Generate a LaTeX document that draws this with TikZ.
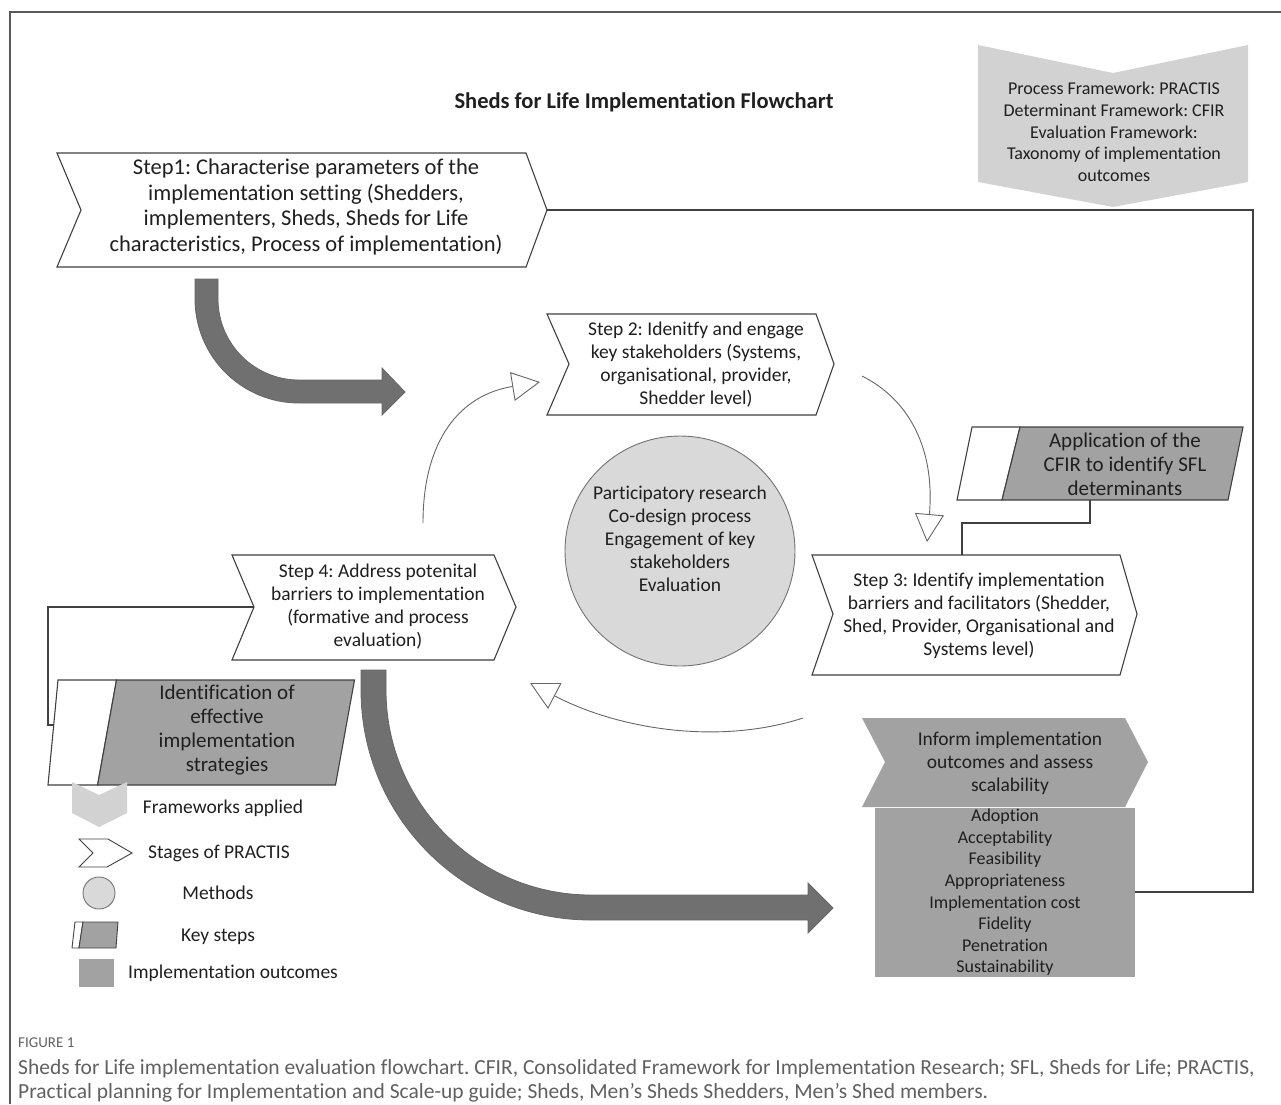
\documentclass[tikz,border=0pt]{standalone}
\usepackage{fontspec}
\setmainfont{Carlito}[Ligatures=NoCommon]
\usepackage{tikz}
\usetikzlibrary{arrows.meta}
\definecolor{fwgray}{HTML}{D2D2D2}
\definecolor{circgray}{HTML}{D9D9D9}
\definecolor{keygray}{HTML}{A2A2A2}
\definecolor{arrgray}{HTML}{707070}
\definecolor{linegray}{HTML}{404040}
\definecolor{capgray}{HTML}{606060}
\newcommand{\fsz}[2]{\fontsize{#1}{#2}\selectfont}
\frenchspacing

\begin{document}
\begin{tikzpicture}[x=1pt, y=-1pt,
  stage/.style={draw=linegray, line width=1.1pt, fill=white},
  keyfill/.style={draw=linegray, line width=1.1pt, fill=keygray},
  conn/.style={draw=linegray, line width=1.3pt},
  loopline/.style={draw=black!60, line width=0.9pt, -{Triangle[open, length=28pt, width=29pt]}},
  bigarrow/.style={fill=arrgray, draw=black!60, line width=0.8pt},
  txt/.style={align=center, inner sep=0pt, text=black!88},
  steptxt/.style={txt, font=\fsz{19.5}{23}},
  legtxt/.style={txt, font=\fsz{19.5}{23}}]
\useasboundingbox (0,0) rectangle (1281,1104);
\draw[draw=black!65, line width=1.2pt] (1281,12) -- (10,12) -- (10,1104);

\node[txt, font=\fsz{22.5}{27}\bfseries] (title) at (644,102) {Sheds for Life Implementation Flowchart};

\coordinate (s1tip) at (547,210);
\coordinate (rbot) at (1253,892);
\coordinate (s4notch) at (254,607);
\coordinate (idin) at (53,725);
\coordinate (applbot) at (1090,500);
\coordinate (s3top) at (962,555);

\node[fill=keygray, minimum width=260pt, minimum height=169pt, txt, font=\fsz{18}{21.6}] (outlist) at (1005,892.5)
  {Adoption\\Acceptability\\Feasibility\\Appropriateness\\Implementation cost\\Fidelity\\Penetration\\Sustainability};

\draw[conn] (s1tip) -| (rbot) -- (outlist.east |- rbot);
\draw[conn] (applbot) -- ++(0,23) -| (s3top);
\draw[conn] (s4notch) -- ++(-206,0) |- (idin);

\fill[fwgray] (978,45) -- (1113,73) -- (1248,45) -- (1248,182) -- (1113,207) -- (978,182) -- cycle;
\node[txt, font=\fsz{18}{21.7}] (fw) at (1114,132) {Process Framework: PRACTIS\\Determinant Framework: CFIR\\Evaluation Framework:\\Taxonomy of implementation\\outcomes};

\draw[stage] (57,153) -- (526,153) -- (s1tip) -- (526,267) -- (57,267) -- (81,210) -- cycle;
\node[txt, font=\fsz{22.5}{25.5}] (s1) at (306,207) {Step1: Characterise parameters of the\\implementation setting (Shedders,\\implementers, Sheds, Sheds for Life\\characteristics, Process of implementation)};

\draw[stage] (547,314) -- (816,314) -- (834,364) -- (816,415) -- (547,415) -- (569,364) -- cycle;
\node[steptxt] (s2) at (696,365) {Step 2: Idenitfy and engage\\key stakeholders (Systems,\\organisational, provider,\\Shedder level)};

\draw[stage] (812,555) -- (1120,555) -- (1137,614) -- (1120,675) -- (812,675) -- (833,614) -- cycle;
\node[steptxt] (s3) at (979,616) {Step 3: Identify implementation\\barriers and facilitators (Shedder,\\Shed, Provider, Organisational and\\Systems level)};

\draw[stage] (232,555) -- (494,555) -- (516,607) -- (494,660) -- (232,660) -- (s4notch) -- cycle;
\node[steptxt] (s4) at (378,607) {Step 4: Address potenital\\barriers to implementation\\(formative and process\\evaluation)};

\draw[stage] (972,427) -- (1020,427) -- (1002,500) -- (957,500) -- cycle;
\draw[keyfill] (1020,427) -- (1243,427) -- (1228,500) -- (1002,500) -- cycle;
\node[txt, font=\fsz{21}{24}] (appl) at (1125,464) {Application of the\\CFIR to identify SFL\\determinants};

\draw[stage] (58,680) -- (116.5,680) -- (97.6,785) -- (48,785) -- cycle;
\draw[keyfill] (116.5,680) -- (354.5,680) -- (335.5,785) -- (97.6,785) -- cycle;
\node[txt, font=\fsz{21}{24}] (ident) at (227,730) {Identification of\\effective\\implementation\\strategies};

\node[circle, draw=black!55, fill=circgray, line width=0.9pt, minimum size=230pt, inner sep=0pt] (meth) at (680,551) {};
\node[steptxt] (methtxt) at (680,539) {Participatory research\\Co-design process\\Engagement of key\\stakeholders\\Evaluation};

\coordinate (a1s) at (423,523);
\coordinate (a1e) at (540,382);
\coordinate (a2s) at (862,376);
\coordinate (a2e) at (927,542);
\coordinate (a3s) at (803,718);
\coordinate (a3e) at (530,683);
\draw[loopline] (a1s) .. controls (423,440) and (460,395) .. (a1e);
\draw[loopline] (a2s) .. controls (910,400) and (935,450) .. (a2e);
\draw[loopline] (a3s) .. controls (720,745) and (620,730) .. (a3e);

\draw[bigarrow] (195,279) -- (195,299) arc[start angle=180, end angle=90, radius=104]
  -- (382,403) -- (382,415) -- (405,392) -- (382,368) -- (382,380) -- (299,380)
  arc[start angle=90, end angle=180, radius=81] -- (218,279) -- cycle;
\draw[bigarrow] (361,670) -- (361,690) arc[start angle=180, end angle=90, radius=230]
  -- (808,920) -- (808,933) -- (833,908) -- (808,883) -- (808,895) -- (591,895)
  arc[start angle=90, end angle=180, radius=205] -- (386,670) -- cycle;

\fill[keygray] (862,718) -- (1125,718) -- (1148,762) -- (1125,807) -- (862,807) -- (885,762) -- cycle;
\node[steptxt] (inform) at (1010,763) {Inform implementation\\outcomes and assess\\scalability};

\fill[fwgray] (72,782) -- (99,795) -- (127,782) -- (127,813) -- (99,827) -- (72,813) -- cycle;
\node[legtxt] (lg1) at (223,808) {Frameworks applied};
\draw[stage, line width=0.9pt] (79,839) -- (108,839) -- (132,853) -- (107,867) -- (79,867) -- (93,853) -- cycle;
\node[legtxt] (lg2) at (219,853) {Stages of PRACTIS};
\node[circle, draw=black!55, fill=circgray, line width=0.9pt, minimum size=32pt, inner sep=0pt] (lg3c) at (99,893) {};
\node[legtxt] (lg3) at (218,893) {Methods};
\draw[stage, line width=0.9pt] (75,922) -- (83,922) -- (79,948) -- (72,948) -- cycle;
\draw[keyfill, line width=0.9pt] (83,922) -- (118,922) -- (116,948) -- (79,948) -- cycle;
\node[legtxt] (lg4) at (218,937) {Key steps};
\fill[keygray] (79,959) rectangle (114,987);
\node[legtxt] (lg5) at (233,973) {Implementation outcomes};

\node[anchor=west, inner sep=0pt, text=capgray, font=\fsz{15}{17}] (fig) at (18,1043) {FIGURE 1};
\node[anchor=north west, inner sep=0pt, align=left, text=capgray, font=\fsz{21.5}{24}] (cap) at (18,1059)
  {Sheds for Life implementation evaluation flowchart. CFIR, Consolidated Framework for Implementation Research; SFL, Sheds for Life; PRACTIS,\\
   Practical planning for Implementation and Scale-up guide; Sheds, Men’s Sheds Shedders, Men’s Shed members.};
\end{tikzpicture}
\end{document}
